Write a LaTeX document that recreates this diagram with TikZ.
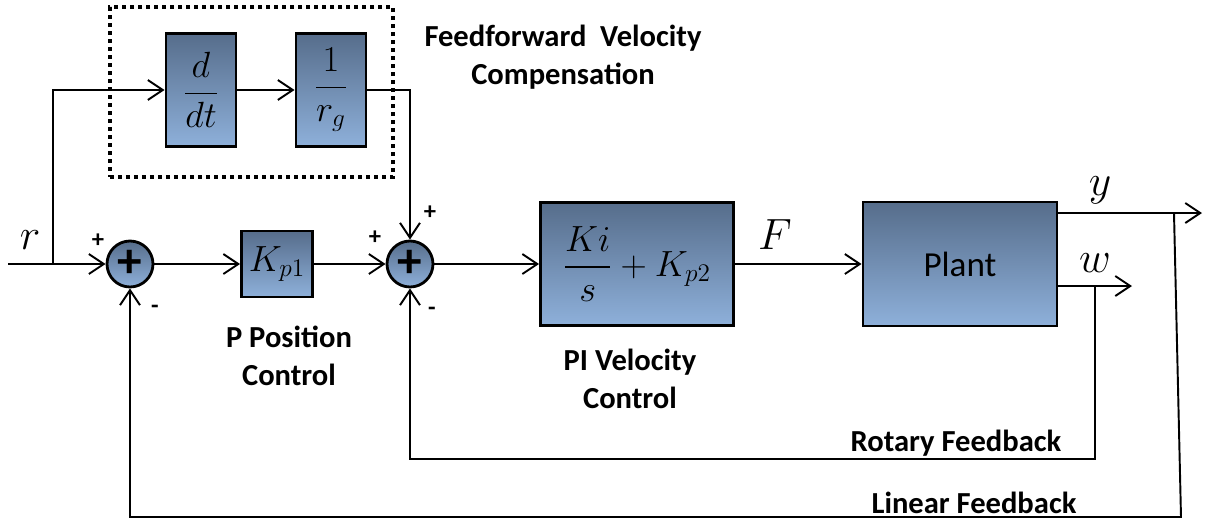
\documentclass[tikz,border=0pt]{standalone}
\usepackage{amsmath}
\usepackage{fontspec}
\setmainfont{Carlito}
\usepackage{tikz}
\usetikzlibrary{arrows.meta}
\definecolor{cTopo}{HTML}{566D8B}
\definecolor{cBase}{HTML}{8EB0DA}

\begin{document}
\begin{tikzpicture}[
  x=0.2mm,y=-0.2mm,line width=1.1pt,
  blk/.style={draw=black,line width=1.6pt,top color=cTopo,bottom color=cBase,
              inner sep=0pt,font=\huge},
  sm/.style={circle,draw=black,line width=1.6pt,top color=cTopo,bottom color=cBase,
             minimum size=9.2mm,inner sep=0pt,font=\fontsize{28}{28}\selectfont\bfseries},
  ar/.style={-{Straight Barb[length=3mm,width=4mm]}},
  lbl/.style={align=center,font=\fontsize{17.4}{21.5}\selectfont\bfseries},
  sgn/.style={font=\fontsize{14}{14}\selectfont\bfseries},
  var/.style={font=\Huge}
]
\useasboundingbox (0,0) rectangle (1206,521);

% ---- bloco feedforward
\node[draw,line width=2.4pt,dash pattern=on 0.8mm off 0.8mm,
      minimum width=56.6mm,minimum height=34mm] (ff) at (251.5,92) {};
\node[blk,minimum width=14mm,minimum height=22.6mm] (ddt) at (201,90) {$\dfrac{d}{dt}$};
\node[blk,minimum width=14mm,minimum height=22.6mm] (rg)  at (331,90) {$\dfrac{1}{r_g}$};
\node[lbl] (ffl) at (563,57) {Feedforward\ \ Velocity\\Compensation};

% ---- malha principal
\node[sm] (s1) at (130,264) {+};
\node[blk,minimum width=14.2mm,minimum height=13.2mm] (kp1) at (277,264) {$K_{p1}$};
\node[sm] (s2) at (410,264) {+};
\node[blk,minimum width=38.6mm,minimum height=24.6mm] (pi) at (637,264) {\raisebox{1.2mm}{$\dfrac{Ki}{s}+K_{p2}$}};
\node[blk,minimum width=38.8mm,minimum height=24.8mm,font=\fontsize{20}{24}\selectfont] (plant) at (960,264) {Plant};

% ---- rotulos
\node[lbl] (ppl) at (289,356) {P Position\\Control};
\node[lbl] (pil) at (630,379) {PI Velocity\\Control};
\node[lbl] (rot) at (956,443) {Rotary Feedback};
\node[lbl] (lnf) at (974,503) {Linear Feedback};
\node[var] (vr) at (30,240)   {$r$};
\node[var] (vf) at (775,235)  {$F$};
\node[var] (vy) at (1100,190) {$y$};
\node[var] (vw) at (1095,263) {$w$};
\node[sgn] (p1) at (98,241)  {+};
\node[sgn] (m1) at (155,309) {-};
\node[sgn] (p2) at (375,238) {+};
\node[sgn] (p3) at (430,213) {+};
\node[sgn] (m2) at (432,311) {-};

% ---- pontos livres
\coordinate (rin)  at (8,264);
\coordinate (rtap) at (53,264);
\coordinate (yout) at (1202,213);
\coordinate (wout) at (1132,286);
\coordinate (ytap) at (1174,213);
\coordinate (ybot) at (1181,517);
\coordinate (wtap) at (1095,286);
\coordinate (wbot) at (1095,459);

% ---- setas
\draw[ar] (rin) -- (s1.west);
\draw[ar] (rtap) |- (ddt.west);
\draw[ar] (ddt) -- (rg);
\draw[ar] (rg.east) -| (s2.north);
\draw[ar] (s1) -- (kp1);
\draw[ar] (kp1) -- (s2);
\draw[ar] (s2) -- (pi);
\draw[ar] (pi) -- (plant);
\draw[ar] (plant.east |- yout) -- (yout);
\draw[ar] (plant.east |- wout) -- (wout);
\draw[ar] (wtap) -- (wbot) -| (s2.south);
\draw[ar] (ytap) -- (ybot) -| (s1.south);
\end{tikzpicture}
\end{document}
